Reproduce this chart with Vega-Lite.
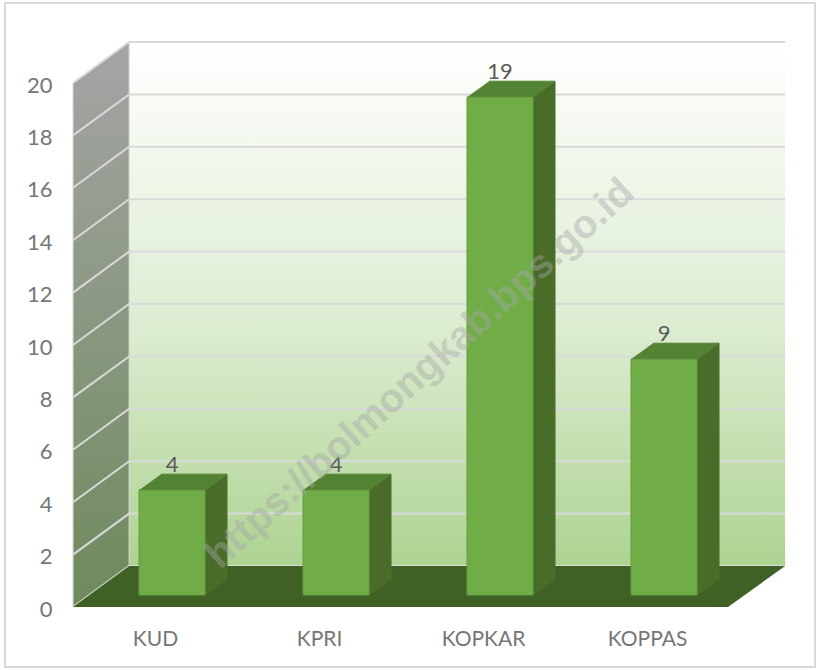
{
"$schema":"https://vega.github.io/schema/vega-lite/v6.json",
"autosize":"none","width":810,"height":664,"padding":{"left":5,"top":3,"right":2,"bottom":3},
"background":"#ffffff",
"config":{"view":{"stroke":"#d9d9d9","strokeWidth":2},"text":{"font":"Lato"}},
"resolve":{"axis":{"x":"independent","y":"independent"}},
"datasets":{
"counts":[{"category":"KUD","value":4},{"category":"KPRI","value":4},{"category":"KOPKAR","value":19},{"category":"KOPPAS","value":9}],
"note":[{"text":"https://bolmongkab.bps.go.id","category":"KPRI","level":8.9}],
"backwall":[{"category":"KUD","across":-1.3,"level":21.565,"corner":1},{"category":"KOPPAS","across":3.67,"level":21.565,"corner":2},{"category":"KOPPAS","across":3.67,"level":1.565,"corner":3},{"category":"KUD","across":-1.3,"level":1.565,"corner":4}],
"sidewall":[{"category":"KUD","across":-3,"level":20,"corner":1},{"category":"KUD","across":-1.3,"level":21.565,"corner":2},{"category":"KUD","across":-1.3,"level":1.565,"corner":3},{"category":"KUD","across":-3,"level":0,"corner":4},{"category":"KUD","across":-3,"level":20,"corner":5}],
"floor":[{"category":"KUD","across":-3,"level":0,"corner":1},{"category":"KOPPAS","across":1.94,"level":0,"corner":2},{"category":"KOPPAS","across":3.67,"level":1.565,"corner":3},{"category":"KUD","across":-1.3,"level":1.565,"corner":4}],
"grid":[
{"g":0,"category":"KUD","across":-3,"level":0,"corner":1},{"g":0,"category":"KUD","across":-1.3,"level":1.565,"corner":2},{"g":0,"category":"KOPPAS","across":3.67,"level":1.565,"corner":3},
{"g":2,"category":"KUD","across":-3,"level":2,"corner":1},{"g":2,"category":"KUD","across":-1.3,"level":3.565,"corner":2},{"g":2,"category":"KOPPAS","across":3.67,"level":3.565,"corner":3},
{"g":4,"category":"KUD","across":-3,"level":4,"corner":1},{"g":4,"category":"KUD","across":-1.3,"level":5.565,"corner":2},{"g":4,"category":"KOPPAS","across":3.67,"level":5.565,"corner":3},
{"g":6,"category":"KUD","across":-3,"level":6,"corner":1},{"g":6,"category":"KUD","across":-1.3,"level":7.565,"corner":2},{"g":6,"category":"KOPPAS","across":3.67,"level":7.565,"corner":3},
{"g":8,"category":"KUD","across":-3,"level":8,"corner":1},{"g":8,"category":"KUD","across":-1.3,"level":9.565,"corner":2},{"g":8,"category":"KOPPAS","across":3.67,"level":9.565,"corner":3},
{"g":10,"category":"KUD","across":-3,"level":10,"corner":1},{"g":10,"category":"KUD","across":-1.3,"level":11.565,"corner":2},{"g":10,"category":"KOPPAS","across":3.67,"level":11.565,"corner":3},
{"g":12,"category":"KUD","across":-3,"level":12,"corner":1},{"g":12,"category":"KUD","across":-1.3,"level":13.565,"corner":2},{"g":12,"category":"KOPPAS","across":3.67,"level":13.565,"corner":3},
{"g":14,"category":"KUD","across":-3,"level":14,"corner":1},{"g":14,"category":"KUD","across":-1.3,"level":15.565,"corner":2},{"g":14,"category":"KOPPAS","across":3.67,"level":15.565,"corner":3},
{"g":16,"category":"KUD","across":-3,"level":16,"corner":1},{"g":16,"category":"KUD","across":-1.3,"level":17.565,"corner":2},{"g":16,"category":"KOPPAS","across":3.67,"level":17.565,"corner":3},
{"g":18,"category":"KUD","across":-3,"level":18,"corner":1},{"g":18,"category":"KUD","across":-1.3,"level":19.565,"corner":2},{"g":18,"category":"KOPPAS","across":3.67,"level":19.565,"corner":3},
{"g":20,"category":"KUD","across":-3,"level":20,"corner":1},{"g":20,"category":"KUD","across":-1.3,"level":21.565,"corner":2},{"g":20,"category":"KOPPAS","across":3.67,"level":21.565,"corner":3}
],
"side":[
{"category":"KUD","across":1,"level":4.458,"corner":1},{"category":"KUD","across":1.667,"level":5.069,"corner":2},{"category":"KUD","across":1.667,"level":1.069,"corner":3},{"category":"KUD","across":1,"level":0.458,"corner":4},
{"category":"KPRI","across":1,"level":4.458,"corner":1},{"category":"KPRI","across":1.667,"level":5.069,"corner":2},{"category":"KPRI","across":1.667,"level":1.069,"corner":3},{"category":"KPRI","across":1,"level":0.458,"corner":4},
{"category":"KOPKAR","across":1,"level":19.458,"corner":1},{"category":"KOPKAR","across":1.667,"level":20.069,"corner":2},{"category":"KOPKAR","across":1.667,"level":1.069,"corner":3},{"category":"KOPKAR","across":1,"level":0.458,"corner":4},
{"category":"KOPPAS","across":1,"level":9.458,"corner":1},{"category":"KOPPAS","across":1.667,"level":10.069,"corner":2},{"category":"KOPPAS","across":1.667,"level":1.069,"corner":3},{"category":"KOPPAS","across":1,"level":0.458,"corner":4}
],
"top":[
{"category":"KUD","across":-1,"level":4.458,"corner":1},{"category":"KUD","across":1,"level":4.458,"corner":2},{"category":"KUD","across":1.667,"level":5.069,"corner":3},{"category":"KUD","across":-0.333,"level":5.069,"corner":4},
{"category":"KPRI","across":-1,"level":4.458,"corner":1},{"category":"KPRI","across":1,"level":4.458,"corner":2},{"category":"KPRI","across":1.667,"level":5.069,"corner":3},{"category":"KPRI","across":-0.333,"level":5.069,"corner":4},
{"category":"KOPKAR","across":-1,"level":19.458,"corner":1},{"category":"KOPKAR","across":1,"level":19.458,"corner":2},{"category":"KOPKAR","across":1.667,"level":20.069,"corner":3},{"category":"KOPKAR","across":-0.333,"level":20.069,"corner":4},
{"category":"KOPPAS","across":-1,"level":9.458,"corner":1},{"category":"KOPPAS","across":1,"level":9.458,"corner":2},{"category":"KOPPAS","across":1.667,"level":10.069,"corner":3},{"category":"KOPPAS","across":-0.333,"level":10.069,"corner":4}
]
},
"encoding":{
"x":{"field":"category","type":"nominal","sort":null,"title":null,"axis":null,"scale":{"type":"point","domain":["KUD","KPRI","KOPKAR","KOPPAS"],"range":[167,659],"padding":0}},
"y":{"field":"level","type":"quantitative","title":null,"axis":null,"scale":{"domain":[0,20],"range":[604,80],"nice":false,"zero":false}},
"xOffset":{"field":"across","type":"quantitative","scale":{"domain":[-3,4],"range":[-99,132],"nice":false,"zero":false}},
"order":{"field":"corner","type":"quantitative"}
},
"layer":[
{"data":{"name":"backwall"},"mark":{"type":"line","stroke":null,"fill":{"gradient":"linear","x1":0,"y1":0,"x2":0,"y2":1,"stops":[{"offset":0,"color":"#ffffff"},{"offset":0.55,"color":"#dcecd0"},{"offset":1,"color":"#add392"}]}},
 "encoding":{
  "x":{"field":"category","type":"nominal","sort":null,"title":null,"scale":{"type":"point","domain":["KUD","KPRI","KOPKAR","KOPPAS"],"range":[167,659],"padding":0},"axis":{"orient":"bottom","offset":-39,"domain":false,"ticks":false,"grid":false,"labelAngle":0,"labelPadding":0,"labelOffset":-17,"labelFont":"Lato","labelFontSize":21,"labelColor":"#767676","labelBaseline":"top"}},
  "y":{"field":"level","type":"quantitative","title":null,"scale":{"domain":[0,20],"range":[604,80],"nice":false,"zero":false},"axis":{"orient":"left","offset":-47,"values":[0,2,4,6,8,10,12,14,16,18,20],"domain":false,"ticks":false,"grid":false,"labelPadding":0,"labelOffset":2,"labelFont":"Lato","labelFontSize":22,"labelColor":"#767676"}}
 }},
{"data":{"name":"sidewall"},"mark":{"type":"line","stroke":"#d9d9d9","strokeWidth":1,"fill":{"gradient":"linear","x1":0,"y1":0,"x2":0,"y2":1,"stops":[{"offset":0,"color":"#a5a5a5"},{"offset":1,"color":"#6e8a5c"}]}}},
{"data":{"name":"grid"},"mark":{"type":"line","stroke":"#d9d9d9","strokeWidth":2},"encoding":{"detail":{"field":"g","type":"nominal"}}},
{"data":{"name":"floor"},"mark":{"type":"line","stroke":null,"fill":"#3f6126"}},
{"data":{"name":"side"},"mark":{"type":"line","stroke":"#4a6f2a","strokeWidth":1,"fill":"#4a6c29"},"encoding":{"detail":{"field":"category","type":"nominal"}}},
{"data":{"name":"top"},"mark":{"type":"line","stroke":"#548235","strokeWidth":1,"fill":"#548235"},"encoding":{"detail":{"field":"category","type":"nominal"}}},
{"data":{"name":"counts"},"mark":{"type":"bar","width":66,"fill":"#70ad47","stroke":"#659c40","strokeWidth":1,"yOffset":-12,"y2Offset":-12},
 "encoding":{"xOffset":null,"order":null,"y":{"field":"value","type":"quantitative","axis":null,"title":null},"y2":{"datum":0}}},
{"data":{"name":"counts"},"mark":{"type":"text","font":"Lato","fontSize":22,"fill":"#595959","baseline":"middle","yOffset":-37},
 "encoding":{"xOffset":null,"order":null,"y":{"field":"value","type":"quantitative","axis":null,"title":null},"text":{"field":"value","type":"quantitative"}}},
{"data":{"name":"note"},"mark":{"type":"text","font":"Liberation Sans","fontWeight":"bold","fontSize":40,"fill":"#a6a6a6","opacity":0.42,"angle":318,"xOffset":84,"align":"center","baseline":"middle"},
 "encoding":{"xOffset":null,"order":null,"text":{"field":"text","type":"nominal"}}}
]
}
